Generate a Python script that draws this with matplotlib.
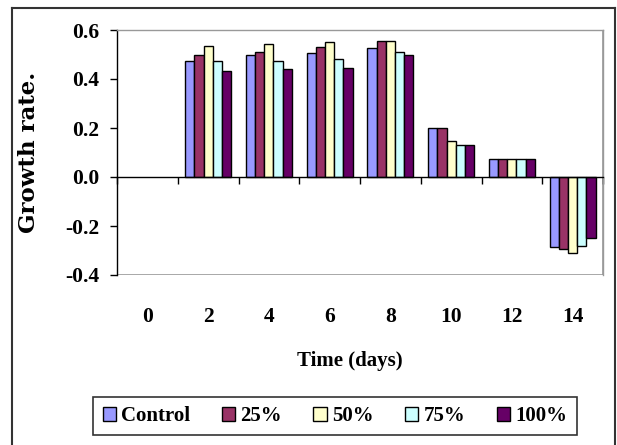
import numpy as np
import matplotlib.pyplot as plt
from matplotlib.lines import Line2D
from matplotlib.patches import Rectangle

plt.rcParams['font.family'] = ['Liberation Serif', 'DejaVu Serif']
plt.rcParams['font.weight'] = 'bold'

days = ['0', '2', '4', '6', '8', '10', '12', '14']
series = ['Control', '25%', '50%', '75%', '100%']
control = [0.0, 0.474, 0.499, 0.507, 0.526, 0.201, 0.074, -0.287]
pct25 = [0.0, 0.497, 0.512, 0.532, 0.555, 0.201, 0.074, -0.293]
pct50 = [0.0, 0.535, 0.543, 0.550, 0.555, 0.147, 0.074, -0.311]
pct75 = [0.0, 0.474, 0.474, 0.481, 0.512, 0.132, 0.074, -0.280]
pct100 = [0.0, 0.431, 0.439, 0.445, 0.497, 0.132, 0.074, -0.250]
colors = ['#9999FF', '#993366', '#FFFFCC', '#CCFFFF', '#660066']

W, H = 617, 445
fig = plt.figure(figsize=(W / 100, H / 100), dpi=100)
ax = fig.add_axes([117 / W, 1 - 275 / H, (603 - 117) / W, (275 - 30) / H])

x = np.arange(len(days))
bw = 0.152
for i, (vals, c, name) in enumerate(zip([control, pct25, pct50, pct75, pct100], colors, series)):
    v = np.array(vals)
    keep = v != 0
    ax.bar(x[keep] + (i - 2) * bw, v[keep], bw, color=c, edgecolor='black',
           linewidth=1.0, label=name)

ax.set_xlim(-0.5, len(days) - 0.5)
ax.set_ylim(-0.4, 0.6)
ax.set_yticks([-0.4, -0.2, 0.0, 0.2, 0.4, 0.6])
ax.set_yticklabels(['-0.4', '-0.2', '0.0', '0.2', '0.4', '0.6'])
ax.tick_params(axis='y', direction='out', length=5, width=1, labelsize=15.5, pad=8)

# category axis sits on the zero line, labels hang below the plot area
ax.spines['bottom'].set_position(('data', 0))
ax.spines['bottom'].set_color('black')
ax.spines['left'].set_color('black')
ax.spines['top'].set_color('#999999')
ax.spines['right'].set_color('#999999')
for s in ax.spines.values():
    s.set_linewidth(1.0)
ax.add_patch(Rectangle((0, 0), 1, 1, transform=ax.transAxes, fill=False,
                       edgecolor='#999999', linewidth=1.2, zorder=0))
ax.set_xticks(np.arange(len(days) + 1) - 0.5)
ax.set_xticklabels([])
ax.tick_params(axis='x', which='major', direction='out', length=5, width=1)
ax.set_xticks(x, minor=True)
ax.set_xticklabels(days, minor=True)
ax.tick_params(axis='x', which='minor', length=0, labelsize=15.5, pad=(315 - 178 - 7) * 0.72)

ax.set_ylabel('Growth rate.', fontsize=16.5, fontweight='bold', family='DejaVu Serif')
ax.yaxis.set_label_coords(-(117 - 40) / (603 - 117), 0.5)

fig.text(350 / W, 1 - 361 / H, 'Time (days)', ha='center', va='center',
         fontsize=15, fontweight='bold')

leg = fig.legend(loc='center', bbox_to_anchor=(335 / W, 1 - 416 / H), ncol=5,
                 fontsize=15, frameon=True, fancybox=False, edgecolor='black',
                 handlelength=0.65, handleheight=0.65, handletextpad=0.25,
                 columnspacing=1.5, borderpad=0.45)
leg.get_frame().set_linewidth(1.2)

# outer chart border
fig.add_artist(Line2D([12 / W, 12 / W], [0, 1 - 8 / H], color='#333333', lw=1.5))
fig.add_artist(Line2D([12 / W, 615 / W], [1 - 8 / H, 1 - 8 / H], color='#333333', lw=1.5))
fig.add_artist(Line2D([615 / W, 615 / W], [0, 1 - 8 / H], color='#333333', lw=1.5))

fig.savefig('out.png', dpi=100)
